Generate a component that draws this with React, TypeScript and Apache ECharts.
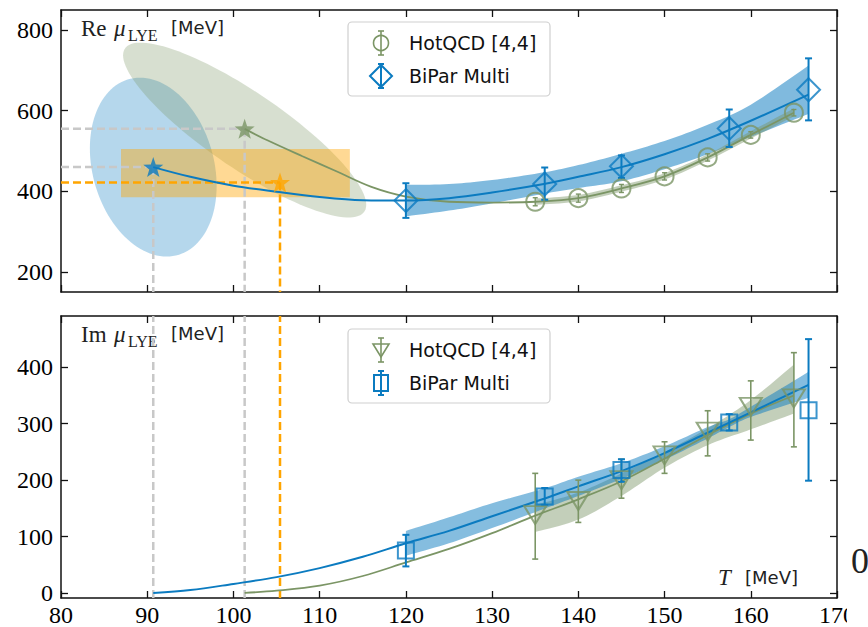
import React, { useEffect, useRef } from "react";
import * as echarts from "echarts";

// ---------------- data ----------------
// top panel: Re mu_LYE
const hotQcdT = [135, 140, 145, 150, 155, 160, 165];
const hotQcdRe = [374, 383, 407, 437, 484, 540, 595];
const hotQcdReLow = [364, 373, 397, 428, 475, 532, 587];
const hotQcdReHigh = [384, 393, 417, 446, 493, 548, 603];

const biparT = [120, 136.1, 145, 157.5, 166.7];
const biparRe = [377, 418, 462, 556, 652];
const biparReLow = [334, 379, 433, 510, 576];
const biparReHigh = [420, 459, 489, 603, 730];

const biparReCurveT = [90.7, 95, 100, 105, 110, 115, 120, 125, 130, 136, 140, 145, 150, 155, 160, 166.7];
const biparReCurve = [460, 436, 414, 399, 386, 378, 377, 383, 397, 418, 436, 460, 492, 530, 575, 640];
const biparReBandT = [120, 125, 130, 136, 140, 145, 150, 155, 160, 166.7];
const biparReBandLow = [338, 352, 370, 394, 408, 425, 455, 492, 535, 592];
const biparReBandHigh = [416, 418, 428, 447, 465, 493, 525, 565, 615, 712];

const hotQcdReCurveT = [101.3, 104, 108, 112, 116, 120, 125, 130, 135, 140, 145, 150, 155, 160, 165];
const hotQcdReCurve = [555, 526, 487, 449, 411, 387, 374, 372, 374, 383, 407, 437, 484, 540, 595];
const hotQcdReBandT = [135, 140, 145, 150, 155, 160, 165];
const hotQcdReBandLow = [366, 375, 399, 429, 476, 531, 586];
const hotQcdReBandHigh = [382, 391, 415, 445, 492, 549, 606];

// Lee-Yang edge estimates (stars): BiPar, HotQCD, combined
const starT = [90.7, 101.3, 105.4];
const starRe = [460, 555, 422];

// ellipses: [T centre, Re centre, sigma T, sigma Re, correlation]
const biparEllipse = [90.7, 460, 7.35, 222, -0.21];
const hotQcdEllipse = [101.3, 552, 14.1, 217, -0.855];

// combined box: [T low, Re low, T high, Re high]
const combinedBox = [86.96, 385, 113.5, 505];

// bottom panel: Im mu_LYE
const hotQcdIm = [138, 163, 200, 244, 286, 330, 345];
const hotQcdImLow = [60, 125, 168, 212, 243, 271, 259];
const hotQcdImHigh = [212, 200, 237, 268, 323, 376, 426];

const biparIm = [75, 171, 218, 302, 324];
const biparImLow = [47, 156, 197, 288, 199];
const biparImHigh = [103, 186, 237, 317, 450];

const biparImCurveT = [90.7, 95, 100, 105, 110, 115, 120, 125, 130, 136, 140, 145, 150, 155, 160, 166.7];
const biparImCurve = [0, 5, 16, 28, 44, 64, 88, 110, 136, 167, 189, 216, 248, 284, 320, 369];
const biparImBandT = [120, 125, 130, 136, 140, 145, 150, 155, 157.5, 160, 166.7];
const biparImBandLow = [66, 88, 115, 149, 172, 202, 236, 274, 294, 312, 346];
const biparImBandHigh = [110, 134, 159, 185, 206, 230, 260, 294, 308, 330, 392];

const hotQcdImCurveT = [101.3, 105, 110, 115, 120, 125, 130, 135, 140, 145, 150, 155, 160, 165];
const hotQcdImCurve = [0, 4, 13, 30, 54, 78, 106, 137, 166, 198, 238, 280, 318, 350];
const hotQcdImBandT = [135, 140, 145, 150, 155, 160, 165];
const hotQcdImBandLow = [108, 130, 172, 222, 262, 290, 318];
const hotQcdImBandHigh = [156, 178, 212, 250, 292, 342, 405];

const xTicks = [80, 90, 100, 110, 120, 130, 140, 150, 160, 170];
const reTicks = [200, 400, 600, 800];
const imTicks = [0, 100, 200, 300, 400];

const seriesNames = ["HotQCD [4,4]", "BiPar Multi"];

// ---------------- styles ----------------
const BLUE = "#0b7bc0";
const GREEN = "#7b9565";
const ORANGE = "#ffa500";
const GREY = "#c8c8c8";
const SERIF = "'Liberation Serif', serif";
const SANS = "'DejaVu Sans', sans-serif";
const STAR =
  "path://M0,-10L2.35,-3.24L9.51,-3.09L3.8,1.24L5.88,8.09L0,4.2L-5.88,8.09L-3.8,1.24L-9.51,-3.09L-2.35,-3.24Z";

const zip = (a: number[], b: number[]) => a.map((v, i) => [v, b[i]]);
const zip3 = (a: number[], b: number[], c: number[]) => a.map((v, i) => [v, b[i], c[i]]);

// Catmull-Rom resampling of an open pixel polyline (edge smoothing only)
function smoothEdge(p: number[][]) {
  const out: number[][] = [];
  const n = p.length;
  for (let i = 0; i < n - 1; i++) {
    const p0 = p[Math.max(i - 1, 0)], p1 = p[i], p2 = p[i + 1], p3 = p[Math.min(i + 2, n - 1)];
    for (let s = 0; s < 10; s++) {
      const t = s / 10, t2 = t * t, t3 = t2 * t;
      const f = (k: number) =>
        0.5 * (2 * p1[k] + (-p0[k] + p2[k]) * t + (2 * p0[k] - 5 * p1[k] + 4 * p2[k] - p3[k]) * t2 + (-p0[k] + 3 * p1[k] - 3 * p2[k] + p3[k]) * t3);
      out.push([f(0), f(1)]);
    }
  }
  out.push(p[n - 1]);
  return out;
}

function bandSeries(xs: number[], lo: number[], hi: number[], color: string, idx: number, z: number) {
  return {
    type: "custom",
    xAxisIndex: idx,
    yAxisIndex: idx,
    z,
    silent: true,
    data: [[xs[0], lo[0]]],
    renderItem: (_p: any, api: any) => {
      const low = smoothEdge(xs.map((x, i) => api.coord([x, lo[i]])));
      const high = smoothEdge(xs.map((x, i) => api.coord([x, hi[i]])));
      const pts = low.concat(high.reverse());
      return { type: "polygon", shape: { points: pts }, style: { fill: color } };
    },
  };
}

function ellipseSeries(e: number[], color: string, z: number) {
  return {
    type: "custom",
    xAxisIndex: 0,
    yAxisIndex: 0,
    z,
    silent: true,
    data: [e],
    renderItem: (_p: any, api: any) => {
      const t0 = api.value(0), m0 = api.value(1), sT = api.value(2), sM = api.value(3), r = api.value(4);
      const pts: number[][] = [];
      for (let k = 0; k < 120; k++) {
        const a = (2 * Math.PI * k) / 120;
        pts.push(api.coord([t0 + sT * Math.cos(a), m0 + sM * (r * Math.cos(a) + Math.sqrt(1 - r * r) * Math.sin(a))]));
      }
      return { type: "polygon", shape: { points: pts }, style: { fill: color } };
    },
  };
}

function errSeries(xs: number[], lo: number[], hi: number[], color: string, idx: number, cap: number, lw: number, z: number) {
  return {
    type: "custom",
    xAxisIndex: idx,
    yAxisIndex: idx,
    z,
    silent: true,
    encode: { x: 0, y: [1, 2] },
    data: zip3(xs, lo, hi),
    renderItem: (_p: any, api: any) => {
      const a = api.coord([api.value(0), api.value(1)]);
      const b = api.coord([api.value(0), api.value(2)]);
      const st = { stroke: color, lineWidth: lw };
      return {
        type: "group",
        children: [
          { type: "line", shape: { x1: a[0], y1: a[1], x2: b[0], y2: b[1] }, style: st },
          { type: "line", shape: { x1: a[0] - cap, y1: a[1], x2: a[0] + cap, y2: a[1] }, style: st },
          { type: "line", shape: { x1: b[0] - cap, y1: b[1], x2: b[0] + cap, y2: b[1] }, style: st },
        ],
      };
    },
  };
}

function lineSeries(data: number[][], color: string, width: number, idx: number, z: number, dashed = false) {
  return {
    type: "line",
    xAxisIndex: idx,
    yAxisIndex: idx,
    z,
    silent: true,
    data,
    symbol: "none",
    smooth: dashed ? false : 0.35,
    lineStyle: { color, width, type: dashed ? [8, 4] : "solid" },
  };
}

function markerSeries(name: string, xs: number[], ys: number[], symbol: string, size: any, color: string, idx: number, z: number, rotate = 0) {
  return {
    type: "scatter",
    name,
    xAxisIndex: idx,
    yAxisIndex: idx,
    z,
    silent: true,
    data: zip(xs, ys),
    symbol,
    symbolSize: size,
    symbolRotate: rotate,
    itemStyle: { color: "rgba(0,0,0,0)", borderColor: color, borderWidth: 2 },
  };
}

const xAxisBase = (grid: number, pos: string, labels: boolean) => ({
  type: "value",
  gridIndex: grid,
  position: pos,
  min: 80,
  max: 170,
  interval: 10,
  axisLine: { onZero: false, lineStyle: { color: "#111", width: 1.5 } },
  axisTick: { inside: true, length: 7, lineStyle: { color: "#111", width: 1.3 } },
  axisLabel: {
    show: labels,
    color: "#000",
    fontFamily: SERIF,
    fontSize: 24,
    margin: 5,
    customValues: xTicks,
  },
  splitLine: { show: false },
});

const yAxisBase = (grid: number, pos: string, labels: boolean, min: number, max: number, ticks: number[]) => ({
  type: "value",
  gridIndex: grid,
  position: pos,
  min,
  max,
  axisLine: { onZero: false, lineStyle: { color: "#111", width: 1.5 } },
  axisTick: { inside: true, length: 7, lineStyle: { color: "#111", width: 1.3 }, customValues: ticks },
  axisLabel: { show: labels, color: "#000", fontFamily: SERIF, fontSize: 24, margin: 8, customValues: ticks },
  splitLine: { show: false },
});

function legendGraphic(top: number, lower: boolean) {
  const cx = 381;
  const y1 = top + 21;
  const y2 = top + 54;
  const gs = { stroke: GREEN, lineWidth: 1.6, fill: "none" };
  const bs = { stroke: BLUE, lineWidth: 2, fill: "none" };
  const err = (y: number, h: number, st: any) => [
    { type: "line", shape: { x1: cx, y1: y - h, x2: cx, y2: y + h }, style: st },
    { type: "line", shape: { x1: cx - 3, y1: y - h, x2: cx + 3, y2: y - h }, style: st },
    { type: "line", shape: { x1: cx - 3, y1: y + h, x2: cx + 3, y2: y + h }, style: st },
  ];
  const icon1 = lower
    ? [{ type: "polygon", shape: { points: [[cx - 8, y1 - 6], [cx + 8, y1 - 6], [cx, y1 + 7]] }, style: gs }]
    : [{ type: "circle", shape: { cx, cy: y1, r: 7.5 }, style: gs }];
  const icon2 = lower
    ? [{ type: "rect", shape: { x: cx - 7, y: y2 - 8, width: 14, height: 16 }, style: bs }]
    : [{ type: "polygon", shape: { points: [[cx - 11, y2], [cx, y2 - 11], [cx + 11, y2], [cx, y2 + 11]] }, style: bs }];
  return {
    type: "group",
    z: 50,
    children: [
      {
        type: "rect",
        shape: { x: 348, y: top, width: 202, height: 74, r: 4 },
        style: { fill: "rgba(255,255,255,0.85)", stroke: "#cfcfcf", lineWidth: 1.2 },
      },
      ...icon1,
      ...err(y1, 12, { stroke: GREEN, lineWidth: 1.6 }),
      ...icon2,
      ...err(y2, 12, { stroke: BLUE, lineWidth: 2 }),
      {
        type: "text",
        style: { text: seriesNames[0], x: 409, y: y1, verticalAlign: "middle", font: `19px ${SANS}`, fill: "#111" },
      },
      {
        type: "text",
        style: { text: seriesNames[1], x: 409, y: y2, verticalAlign: "middle", font: `19px ${SANS}`, fill: "#111" },
      },
    ],
  };
}

function axisTitle(x: number, yMid: number, head: string) {
  return {
    type: "group",
    z: 40,
    children: [
      { type: "text", style: { text: head, x, y: yMid, verticalAlign: "middle", font: `23px ${SERIF}`, fill: "#222" } },
      {
        type: "text",
        style: { text: "μ", x: x + 33, y: yMid, verticalAlign: "middle", font: `italic 23px ${SERIF}`, fill: "#222" },
      },
      {
        type: "text",
        style: { text: "LYE", x: x + 47, y: yMid + 7, verticalAlign: "middle", font: `16px ${SERIF}`, fill: "#222" },
      },
      {
        type: "text",
        style: { text: "[MeV]", x: x + 90, y: yMid - 1, verticalAlign: "middle", font: `18px ${SANS}`, fill: "#222" },
      },
    ],
  };
}

function buildOption() {
  const series: any[] = [];
  // ----- top panel -----
  series.push(ellipseSeries(biparEllipse, "rgba(11,123,192,0.3)", 1));
  series.push(ellipseSeries(hotQcdEllipse, "rgba(123,149,101,0.3)", 1));
  series.push({
    type: "custom",
    xAxisIndex: 0,
    yAxisIndex: 0,
    z: 1,
    silent: true,
    data: [combinedBox],
    renderItem: (_p: any, api: any) => {
      const a = api.coord([api.value(0), api.value(1)]);
      const b = api.coord([api.value(2), api.value(3)]);
      return {
        type: "rect",
        shape: { x: a[0], y: b[1], width: b[0] - a[0], height: a[1] - b[1] },
        style: { fill: "rgba(255,165,0,0.42)" },
      };
    },
  });
  const starColors = [GREY, GREY, ORANGE];
  starT.forEach((t, i) => {
    series.push(lineSeries([[80, starRe[i]], [t, starRe[i]]], starColors[i], 2.5, 0, 2, true));
    series.push(lineSeries([[t, starRe[i]], [t, 150]], starColors[i], 2.5, 0, 2, true));
    series.push(lineSeries([[t, -9], [t, 491]], starColors[i], 2.5, 1, 2, true));
  });
  series.push(bandSeries(biparReBandT, biparReBandLow, biparReBandHigh, "rgba(11,123,192,0.52)", 0, 3));
  series.push(bandSeries(hotQcdReBandT, hotQcdReBandLow, hotQcdReBandHigh, "rgba(123,149,101,0.45)", 0, 3));
  series.push(lineSeries(zip(hotQcdReCurveT, hotQcdReCurve), GREEN, 1.8, 0, 4));
  series.push(lineSeries(zip(biparReCurveT, biparReCurve), BLUE, 2, 0, 4));
  series.push(errSeries(hotQcdT, hotQcdReLow, hotQcdReHigh, GREEN, 0, 2.5, 1.4, 5));
  series.push(errSeries(biparT, biparReLow, biparReHigh, BLUE, 0, 3.5, 2, 5));
  series.push(markerSeries(seriesNames[0], hotQcdT, hotQcdRe, "circle", 18, GREEN, 0, 6));
  series.push(markerSeries(seriesNames[1], biparT, biparRe, "diamond", 23, BLUE, 0, 6));
  const starFill = [BLUE, GREEN, ORANGE];
  starT.forEach((t, i) => {
    series.push({
      type: "scatter",
      xAxisIndex: 0,
      yAxisIndex: 0,
      z: 7,
      silent: true,
      data: [[t, starRe[i]]],
      symbol: STAR,
      symbolSize: 20,
      itemStyle: { color: starFill[i] },
    });
  });
  // ----- bottom panel -----
  series.push(bandSeries(hotQcdImBandT, hotQcdImBandLow, hotQcdImBandHigh, "rgba(123,149,101,0.45)", 1, 3));
  series.push(bandSeries(biparImBandT, biparImBandLow, biparImBandHigh, "rgba(11,123,192,0.5)", 1, 3));
  series.push(lineSeries(zip(hotQcdImCurveT, hotQcdImCurve), GREEN, 1.8, 1, 4));
  series.push(lineSeries(zip(biparImCurveT, biparImCurve), BLUE, 2, 1, 4));
  series.push(errSeries(hotQcdT, hotQcdImLow, hotQcdImHigh, GREEN, 1, 3, 1.6, 5));
  series.push(errSeries(biparT, biparImLow, biparImHigh, BLUE, 1, 3.5, 2, 5));
  series.push(markerSeries(seriesNames[0], hotQcdT, hotQcdIm, "triangle", [22, 18], GREEN, 1, 6, 180));
  series.push(markerSeries(seriesNames[1], biparT, biparIm, "rect", 16, BLUE, 1, 6));

  return {
    animation: false,
    backgroundColor: "#ffffff",
    grid: [
      { left: 61, top: 10, width: 776, height: 282 },
      { left: 61, top: 316, width: 776, height: 282 },
    ],
    xAxis: [
      { ...xAxisBase(0, "bottom", false) },
      { ...xAxisBase(1, "bottom", true) },
      { ...xAxisBase(0, "top", false) },
      { ...xAxisBase(1, "top", false) },
    ],
    yAxis: [
      yAxisBase(0, "left", true, 150, 850, reTicks),
      yAxisBase(1, "left", true, -9, 491, imTicks),
      yAxisBase(0, "right", false, 150, 850, reTicks),
      yAxisBase(1, "right", false, -9, 491, imTicks),
    ],
    series,
    graphic: [
      legendGraphic(22, false),
      legendGraphic(329, true),
      axisTitle(81, 28, "Re"),
      axisTitle(81, 334, "Im"),
      {
        type: "text",
        z: 40,
        style: { text: "T", x: 718, y: 577, verticalAlign: "middle", font: `italic 23px ${SERIF}`, fill: "#222" },
      },
      {
        type: "text",
        z: 40,
        style: { text: "[MeV]", x: 745, y: 577, verticalAlign: "middle", font: `18px ${SANS}`, fill: "#222" },
      },
      { type: "rect", z: 60, shape: { x: 847, y: 0, width: 21, height: 627 }, style: { fill: "#ffffff" } },
      {
        type: "text",
        z: 61,
        style: { text: "0", x: 851, y: 561, verticalAlign: "middle", font: `36px ${SERIF}`, fill: "#222" },
      },
    ],
  };
}

export default function App() {
  const ref = useRef<HTMLDivElement>(null);
  useEffect(() => {
    if (!ref.current) return;
    const chart = echarts.init(ref.current, null, { renderer: "svg" });
    chart.setOption(buildOption() as any);
    return () => chart.dispose();
  }, []);
  return <div ref={ref} style={{ position: "absolute", left: 0, top: 0, width: 868, height: 627 }} />;
}
